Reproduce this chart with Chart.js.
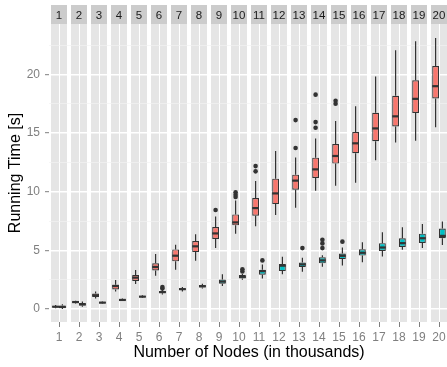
<!DOCTYPE html>
<html lang="en">
<head>
  <meta charset="UTF-8" />
  <title>Running Time vs Number of Nodes</title>
  <script src="https://cdn.jsdelivr.net/npm/chart.js"></script>
  <style>
    html, body {
      margin: 0;
      padding: 0;
      background: #ffffff;
      overflow: hidden;
    }
    .chart-box {
      width: 449px;
      height: 367px;
    }
  </style>
</head>
<body>
  <div class="chart-box">
    <canvas id="timeChart"></canvas>
  </div>

  <script>
    // Nodes (thousands), one facet each
    const nodes = ["1","2","3","4","5","6","7","8","9","10","11","12","13","14","15","16","17","18","19","20"];

    // red series: box stats per facet
    const redMin = [0.08, 0.47, 0.9, 1.5, 2.14, 2.85, 3.36, 4.13, 5.2, 6.43, 7.07, 8.01, 8.64, 10.09, 10.52, 10.77, 12.68, 14.21, 14.35, 15.49];
    const redQ1  = [0.15, 0.52, 1.04, 1.68, 2.4, 3.3, 4.07, 4.86, 5.97, 7.14, 7.96, 8.95, 10.18, 11.17, 12.4, 13.28, 14.3, 15.57, 16.71, 17.96];
    const redMed = [0.2, 0.6, 1.17, 1.97, 2.68, 3.59, 4.55, 5.35, 6.45, 7.39, 8.61, 9.86, 10.95, 11.91, 13.05, 14.13, 15.4, 16.43, 17.92, 19.0];
    const redQ3  = [0.27, 0.67, 1.32, 2.08, 2.91, 3.9, 5.09, 5.8, 6.99, 8.07, 9.46, 11.12, 11.46, 12.91, 14.07, 15.09, 16.73, 18.18, 19.51, 20.71];
    const redMax = [0.35, 0.72, 1.5, 2.48, 3.34, 4.7, 5.49, 6.37, 7.9, 9.25, 10.91, 13.47, 12.93, 14.53, 16.03, 17.28, 19.83, 22.07, 22.83, 23.11];
    const redOut = [[], [], [], [], [], [], [], [], [8.44], [9.55, 9.75, 9.95], [11.74, 12.19], [], [13.73, 16.11], [15.46, 15.94, 18.28], [17.5, 17.75], [], [], [], [], []];

    // teal series
    const tealMin = [0.0, 0.2, 0.45, 0.68, 0.95, 1.25, 1.5, 1.75, 1.96, 2.5, 2.61, 2.96, 3.19, 3.61, 3.71, 4.0, 4.48, 5.05, 5.2, 5.47];
    const tealQ1  = [0.1, 0.3, 0.5, 0.72, 1.0, 1.35, 1.62, 1.85, 2.17, 2.6, 2.93, 3.24, 3.58, 3.9, 4.26, 4.56, 4.96, 5.29, 5.64, 6.04];
    const tealMed = [0.18, 0.4, 0.55, 0.78, 1.06, 1.45, 1.7, 1.95, 2.35, 2.75, 3.24, 3.7, 3.81, 4.15, 4.54, 4.8, 5.25, 5.62, 6.04, 6.24];
    const tealQ3  = [0.3, 0.52, 0.6, 0.85, 1.12, 1.55, 1.78, 2.05, 2.53, 2.9, 3.36, 3.84, 3.98, 4.41, 4.73, 5.1, 5.62, 6.04, 6.43, 6.86];
    const tealMax = [0.42, 0.64, 0.64, 0.9, 1.18, 1.62, 1.88, 2.15, 2.96, 3.0, 3.8, 4.47, 4.38, 4.58, 5.24, 5.7, 6.55, 6.98, 7.26, 7.46];
    const tealOut = [[], [], [], [], [], [1.75, 1.88], [], [], [], [3.2, 3.4], [4.15], [], [5.2], [5.2, 5.6, 5.9], [5.75], [], [], [], [], []];

    const yTicks = [0, 5, 10, 15, 20];

    const boxes = [
      { min: redMin, med: redMed, max: redMax, out: redOut },
      { min: tealMin, med: tealMed, max: tealMax, out: tealOut }
    ];

    Chart.defaults.font.family = '"Liberation Sans", Arial, sans-serif';
    const ink = "#333333";

    // gray facet panels + strips behind everything
    const panelPlugin = {
      id: "panels",
      beforeDraw(chart) {
        const { ctx, chartArea, scales } = chart;
        const half = (scales.x.width / nodes.length) * 0.4;
        ctx.save();
        nodes.forEach((n, i) => {
          const cx = scales.x.getPixelForValue(i);
          ctx.fillStyle = "#e5e5e5";
          ctx.fillRect(cx - half, chartArea.top, half * 2, chartArea.bottom - chartArea.top);
          ctx.fillStyle = "#cccccc";
          ctx.fillRect(cx - half, 5, half * 2, chartArea.top - 5);
          ctx.fillStyle = "#1a1a1a";
          ctx.font = '11.5px "Liberation Sans", Arial, sans-serif';
          ctx.textAlign = "center";
          ctx.textBaseline = "middle";
          ctx.fillText(n, cx, (5 + chartArea.top) / 2 + 1);
        });
        ctx.restore();
      }
    };

    // whiskers under the boxes, medians and outliers on top
    const whiskerPlugin = {
      id: "whiskers",
      beforeDatasetsDraw(chart) {
        const { ctx } = chart;
        const y = chart.scales.y;
        ctx.save();
        ctx.strokeStyle = ink;
        ctx.lineWidth = 1.2;
        boxes.forEach((b, d) => {
          chart.getDatasetMeta(d).data.forEach((bar, i) => {
            const q = chart.data.datasets[d].data[i];
            ctx.beginPath();
            ctx.moveTo(bar.x, y.getPixelForValue(b.max[i]));
            ctx.lineTo(bar.x, y.getPixelForValue(q[1]));
            ctx.moveTo(bar.x, y.getPixelForValue(q[0]));
            ctx.lineTo(bar.x, y.getPixelForValue(b.min[i]));
            ctx.stroke();
          });
        });
        ctx.restore();
      },
      afterDatasetsDraw(chart) {
        const { ctx } = chart;
        const y = chart.scales.y;
        ctx.save();
        boxes.forEach((b, d) => {
          chart.getDatasetMeta(d).data.forEach((bar, i) => {
            const m = y.getPixelForValue(b.med[i]);
            ctx.strokeStyle = ink;
            ctx.lineWidth = 2.2;
            ctx.beginPath();
            ctx.moveTo(bar.x - bar.width / 2, m);
            ctx.lineTo(bar.x + bar.width / 2, m);
            ctx.stroke();
            ctx.fillStyle = ink;
            b.out[i].forEach(v => {
              ctx.beginPath();
              ctx.arc(bar.x, y.getPixelForValue(v), 2.3, 0, Math.PI * 2);
              ctx.fill();
            });
          });
        });
        ctx.restore();
      }
    };

    const isMajor = c => c.tick && yTicks.includes(c.tick.value);

    new Chart(document.getElementById("timeChart"), {
      type: "bar",
      data: {
        labels: nodes,
        datasets: [
          {
            data: redQ1.map((v, i) => [v, redQ3[i]]),
            backgroundColor: "#f8766d",
            borderColor: ink,
            borderWidth: 1.2,
            borderSkipped: false,
            categoryPercentage: 0.68,
            barPercentage: 1
          },
          {
            data: tealQ1.map((v, i) => [v, tealQ3[i]]),
            backgroundColor: "#00bfc4",
            borderColor: ink,
            borderWidth: 1.2,
            borderSkipped: false,
            categoryPercentage: 0.68,
            barPercentage: 1
          }
        ]
      },
      options: {
        responsive: true,
        maintainAspectRatio: false,
        animation: false,
        layout: { padding: { top: 24, right: 0, bottom: 0, left: 0 } },
        plugins: {
          legend: { display: false },
          tooltip: { enabled: false }
        },
        scales: {
          x: {
            offset: true,
            grid: { offset: false, color: "#ffffff", lineWidth: 1, tickLength: 5, tickColor: "#7f7f7f" },
            border: { display: false },
            ticks: { color: "#7f7f7f", font: { size: 12 }, padding: 3, autoSkip: false, maxRotation: 0 },
            title: {
              display: true,
              text: "Number of Nodes (in thousands)",
              color: "#000000",
              font: { size: 16 },
              padding: { top: 0, bottom: 5 }
            },
            afterFit(s) { s.height = 45; }
          },
          y: {
            min: -1.1,
            max: 24.3,
            grid: {
              color: c => isMajor(c) ? "#ffffff" : "#f2f2f2",
              lineWidth: c => isMajor(c) ? 1.4 : 0.7,
              tickLength: 4,
              tickColor: c => isMajor(c) ? "#7f7f7f" : "rgba(0,0,0,0)",
              tickWidth: 1
            },
            border: { display: false },
            ticks: {
              stepSize: 2.5,
              includeBounds: false,
              autoSkip: false,
              color: "#7f7f7f",
              font: { size: 12 },
              padding: 5,
              callback: v => yTicks.includes(v) ? v : ""
            },
            title: {
              display: true,
              text: "Running Time [s]",
              color: "#000000",
              font: { size: 16 },
              padding: { top: 6, bottom: 0 }
            },
            afterFit(s) { s.width = 49; }
          }
        }
      },
      plugins: [panelPlugin, whiskerPlugin]
    });
  </script>
</body>
</html>
